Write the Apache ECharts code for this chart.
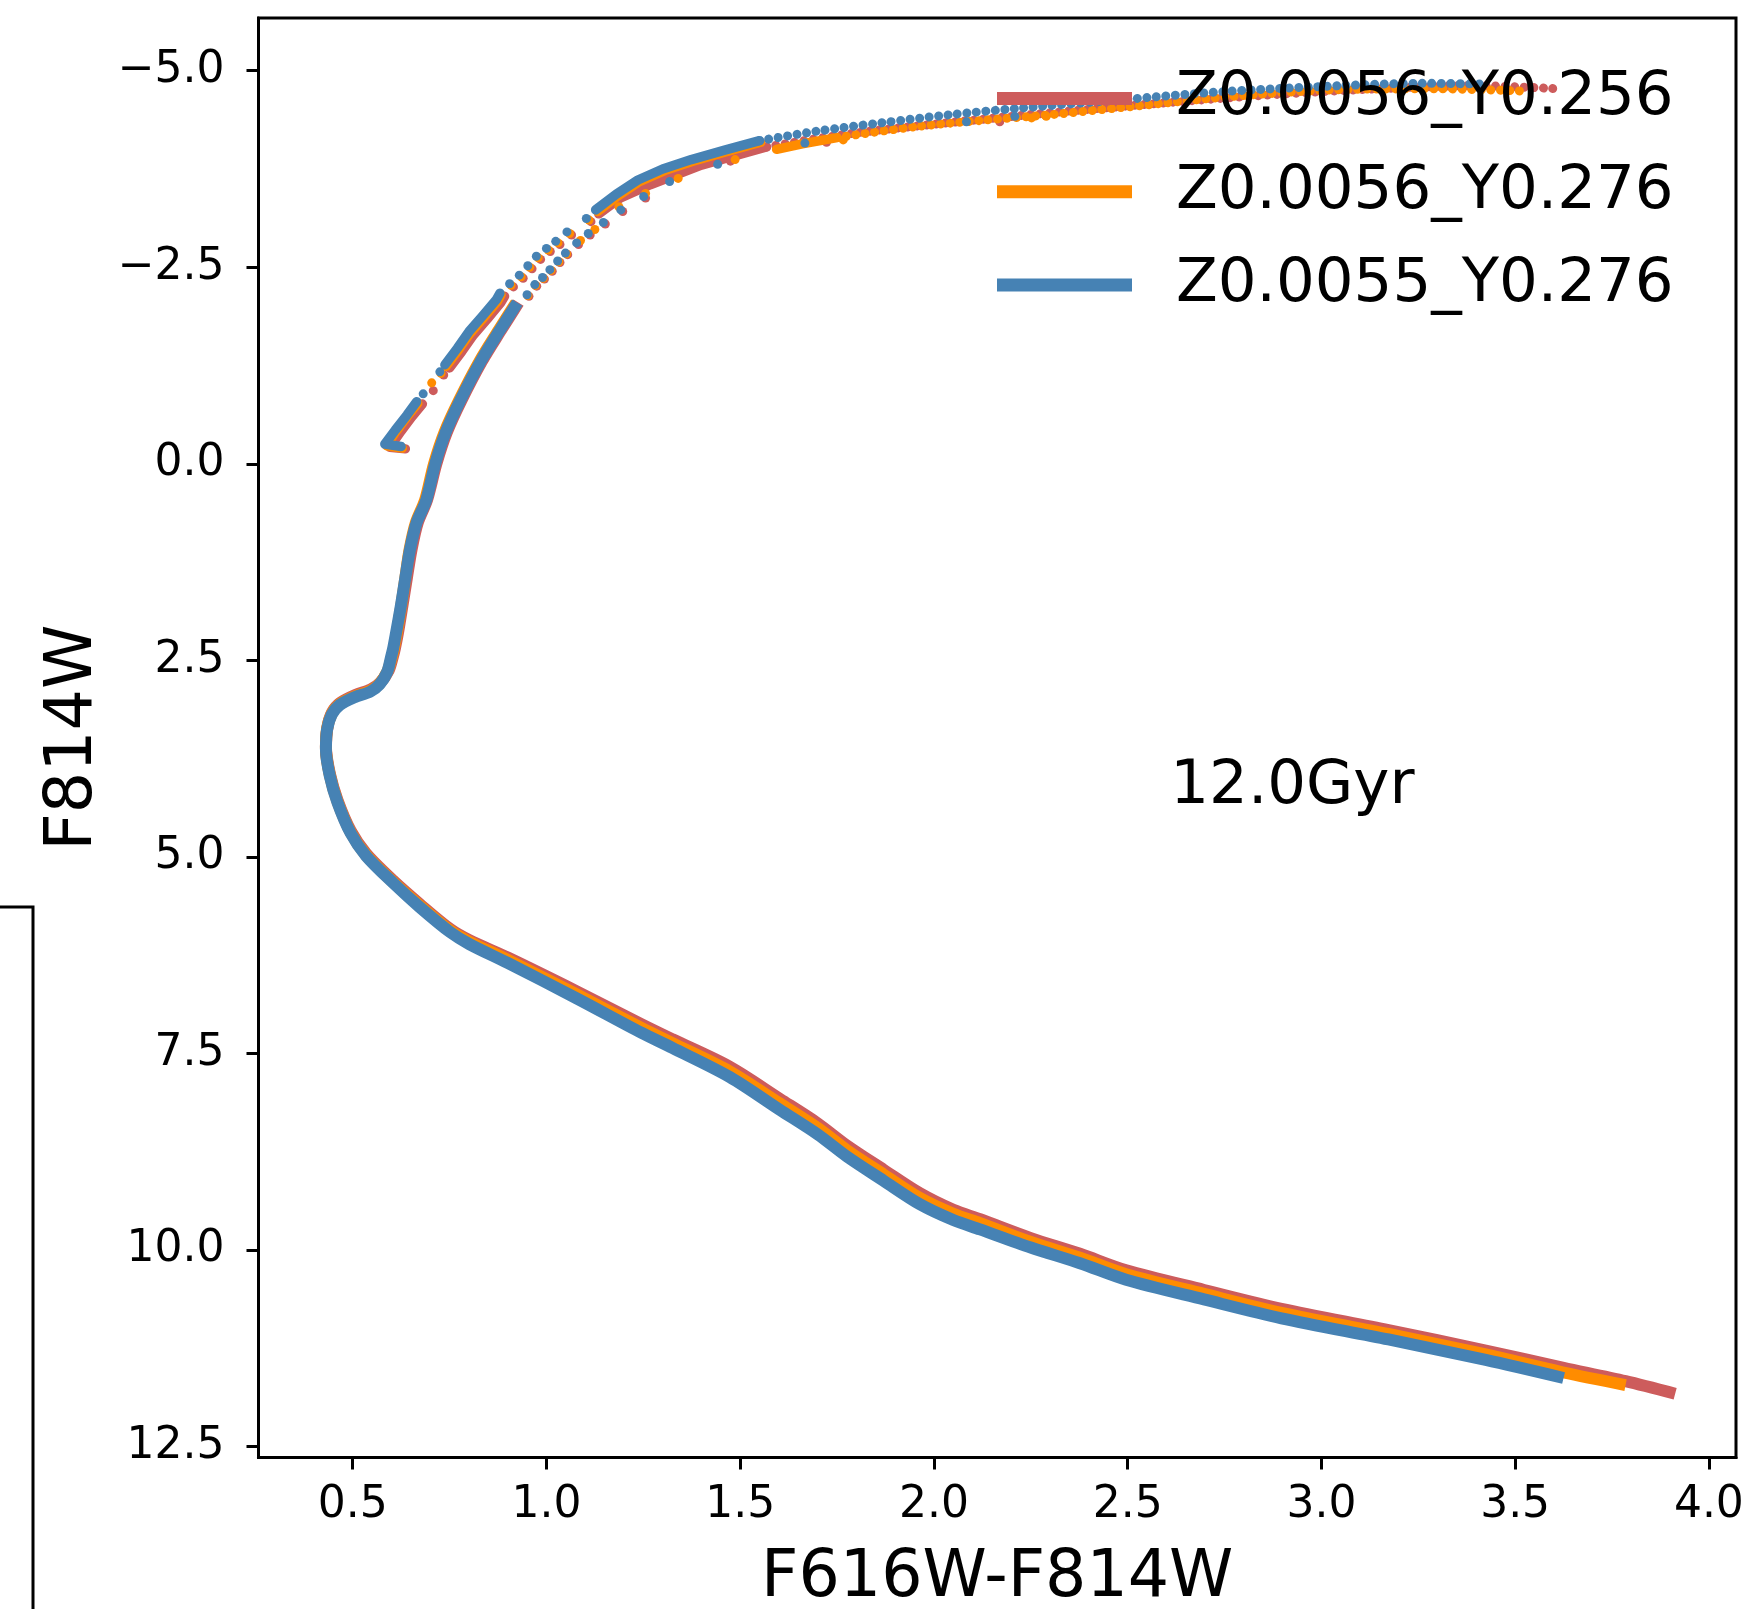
<!DOCTYPE html>
<html>
<head>
<meta charset="utf-8">
<script src="https://cdn.jsdelivr.net/npm/echarts@6/dist/echarts.min.js"></script>
<style>
  html, body { margin: 0; padding: 0; background: #fff; }
  #chart { width: 1762px; height: 1609px; }
</style>
</head>
<body>
<div id="chart"></div>
<script>
// Isochrone CMD, 12 Gyr: F814W vs F616W-F814W for three Z/Y compositions.

const modelNames = ['Z0.0056_Y0.256', 'Z0.0056_Y0.276', 'Z0.0055_Y0.276'];
const xTicks = [0.5, 1.0, 1.5, 2.0, 2.5, 3.0, 3.5, 4.0];
const yTicks = [-5.0, -2.5, 0.0, 2.5, 5.0, 7.5, 10.0, 12.5];
const ageLabel = '12.0Gyr';
const ageLabelAt = [2.61, 4.12];

// ---- Z0.0056_Y0.256 ----
const redMain = [
  [3.913, 11.83], [3.785, 11.67], [3.625, 11.50], [3.424, 11.28], [3.173, 11.02],
  [2.897, 10.75], [2.697, 10.51], [2.496, 10.26], [2.377, 10.05], [2.25, 9.85],
  [2.119, 9.61], [2.05, 9.49], [1.964, 9.28], [1.87, 8.98], [1.775, 8.67],
  [1.70, 8.39], [1.603, 8.08], [1.473, 7.67], [1.325, 7.32], [1.246, 7.13],
  [1.078, 6.71], [0.90, 6.28], [0.801, 6.06], [0.752, 5.92], [0.673, 5.60],
  [0.604, 5.30], [0.535, 4.96], [0.495, 4.67], [0.461, 4.28], [0.441, 3.94],
  [0.431, 3.60], [0.435, 3.35], [0.447, 3.16], [0.468, 3.04], [0.507, 2.94],
  [0.547, 2.87], [0.572, 2.78], [0.593, 2.63], [0.604, 2.45], [0.609, 2.35],
  [0.617, 2.15], [0.628, 1.82], [0.64, 1.45], [0.652, 1.09], [0.668, 0.75],
  [0.692, 0.46], [0.716, 0.0], [0.743, -0.40], [0.781, -0.81], [0.833, -1.30],
  [0.883, -1.70], [0.928, -2.05]
];
const redHbLower = [[0.636, -0.19], [0.596, -0.21], [0.624, -0.41], [0.653, -0.60], [0.68, -0.76]];
const redHbDots = [[0.708, -0.93], [0.735, -1.13]];
const redAgbLower = [[0.75, -1.22], [0.782, -1.43], [0.812, -1.64], [0.847, -1.84], [0.882, -2.05], [0.892, -2.13]];
const redAgbDots = [
  [0.915, -2.25], [0.94, -2.36], [0.963, -2.48], [0.985, -2.60], [1.01, -2.70],
  [1.035, -2.79], [1.065, -2.91], [1.115, -3.08]
];
const redAgbUpper = [[1.135, -3.18], [1.19, -3.38], [1.268, -3.55], [1.40, -3.80], [1.568, -4.03]];
const redTipRow = [
  [1.568, -4.03], [1.80, -4.21], [2.10, -4.37], [2.40, -4.51], [2.80, -4.67],
  [3.10, -4.76], [3.40, -4.81], [3.61, -4.77]
];
const redRgbDots = [
  [0.955, -2.13], [0.975, -2.26], [0.995, -2.35], [1.015, -2.45], [1.035, -2.56],
  [1.055, -2.66], [1.083, -2.79], [1.113, -2.91], [1.152, -3.05], [1.197, -3.21],
  [1.256, -3.38], [1.475, -3.85], [1.723, -4.09], [2.17, -4.35], [2.29, -4.43]
];

// ---- Z0.0056_Y0.276 ----
const orangeMain = [
  [3.785, 11.72], [3.625, 11.56], [3.424, 11.33], [3.173, 11.07], [2.897, 10.80],
  [2.697, 10.56], [2.496, 10.31], [2.377, 10.10], [2.25, 9.90], [2.119, 9.66],
  [2.05, 9.54], [1.964, 9.34], [1.87, 9.04], [1.775, 8.73], [1.70, 8.45],
  [1.603, 8.14], [1.473, 7.73], [1.325, 7.37], [1.246, 7.18], [1.078, 6.75],
  [0.90, 6.31], [0.801, 6.08], [0.752, 5.94], [0.673, 5.62], [0.604, 5.32],
  [0.535, 4.98], [0.495, 4.69], [0.461, 4.30], [0.441, 3.96], [0.431, 3.62],
  [0.434, 3.37], [0.446, 3.18], [0.466, 3.06], [0.505, 2.96], [0.545, 2.89],
  [0.569, 2.80], [0.59, 2.64], [0.601, 2.46], [0.606, 2.36], [0.614, 2.15],
  [0.625, 1.82], [0.636, 1.45], [0.647, 1.09], [0.663, 0.75], [0.687, 0.46],
  [0.71, 0.0], [0.737, -0.40], [0.775, -0.81], [0.827, -1.30], [0.877, -1.70],
  [0.922, -2.05]
];
const orangeHbLower = [[0.628, -0.20], [0.588, -0.23], [0.613, -0.42], [0.642, -0.61], [0.668, -0.77]];
const orangeHbDots = [[0.704, -1.03], [0.728, -1.15]];
const orangeAgbLower = [[0.741, -1.24], [0.773, -1.45], [0.803, -1.66], [0.838, -1.86], [0.874, -2.07], [0.883, -2.15]];
const orangeAgbDots = [
  [0.909, -2.27], [0.935, -2.38], [0.957, -2.50], [0.979, -2.62], [1.005, -2.72],
  [1.03, -2.81], [1.06, -2.93], [1.11, -3.10]
];
const orangeAgbUpper = [[1.132, -3.21], [1.185, -3.41], [1.24, -3.59], [1.305, -3.73], [1.378, -3.85], [1.464, -3.97], [1.553, -4.09]];
const orangeTipThick = [[1.594, -4.00], [1.66, -4.07], [1.75, -4.15]];
const orangeTipRow = [
  [1.75, -4.15], [1.955, -4.29], [2.127, -4.37], [2.30, -4.44], [2.48, -4.53],
  [2.764, -4.67], [3.05, -4.76], [3.30, -4.77], [3.53, -4.74]
];
const orangeRgbDots = [
  [0.952, -2.14], [0.972, -2.27], [0.992, -2.36], [1.012, -2.46], [1.032, -2.57],
  [1.052, -2.67], [1.088, -2.84], [1.125, -2.98], [1.187, -3.27], [1.256, -3.44],
  [1.34, -3.63], [1.487, -3.87], [1.766, -4.12], [2.252, -4.40], [2.29, -4.42]
];

// ---- Z0.0055_Y0.276 ----
const blueMain = [
  [3.625, 11.63], [3.424, 11.40], [3.173, 11.14], [2.897, 10.87], [2.697, 10.63],
  [2.496, 10.38], [2.377, 10.17], [2.25, 9.97], [2.119, 9.74], [2.05, 9.62],
  [1.964, 9.42], [1.87, 9.12], [1.775, 8.81], [1.70, 8.53], [1.603, 8.22],
  [1.473, 7.80], [1.325, 7.43], [1.246, 7.24], [1.078, 6.80], [0.90, 6.35],
  [0.801, 6.11], [0.752, 5.96], [0.673, 5.64], [0.604, 5.33], [0.535, 4.99],
  [0.495, 4.70], [0.461, 4.31], [0.441, 3.97], [0.431, 3.63], [0.434, 3.38],
  [0.446, 3.19], [0.466, 3.07], [0.505, 2.97], [0.545, 2.90], [0.569, 2.81],
  [0.589, 2.65], [0.599, 2.46], [0.604, 2.36], [0.612, 2.15], [0.624, 1.82],
  [0.636, 1.45], [0.648, 1.09], [0.665, 0.75], [0.69, 0.46], [0.713, 0.0],
  [0.74, -0.40], [0.778, -0.81], [0.83, -1.30], [0.88, -1.70], [0.925, -2.05]
];
const blueHbLower = [[0.625, -0.22], [0.583, -0.25], [0.61, -0.43], [0.64, -0.62], [0.665, -0.79]];
const blueHbDots = [[0.682, -0.89], [0.725, -1.17]];
const blueAgbLower = [[0.738, -1.26], [0.77, -1.47], [0.80, -1.68], [0.835, -1.88], [0.871, -2.09], [0.88, -2.17]];
const blueAgbDots = [
  [0.905, -2.29], [0.93, -2.40], [0.952, -2.52], [0.974, -2.64], [1.0, -2.74],
  [1.024, -2.83], [1.053, -2.95], [1.103, -3.12]
];
const blueAgbUpper = [[1.127, -3.23], [1.18, -3.43], [1.236, -3.61], [1.30, -3.75], [1.374, -3.87], [1.46, -3.99], [1.55, -4.11]];
const blueTipRow = [
  [1.55, -4.11], [1.697, -4.23], [1.869, -4.34], [2.041, -4.44], [2.213, -4.52],
  [2.48, -4.63], [2.764, -4.74], [3.05, -4.81], [3.26, -4.84], [3.42, -4.83]
];
const blueRgbDots = [
  [0.95, -2.15], [0.97, -2.28], [0.99, -2.37], [1.009, -2.47], [1.029, -2.58],
  [1.049, -2.68], [1.078, -2.81], [1.108, -2.93], [1.147, -3.07], [1.192, -3.23],
  [1.251, -3.40], [1.318, -3.59], [1.442, -3.81], [1.667, -4.08], [2.084, -4.35],
  [2.209, -4.42]
];

const FONT = '"DejaVu Sans", "Liberation Sans", sans-serif';
const colors = ['#CD5C5C', '#FF8C00', '#4682B4'];

// track pieces per model: solid isochrone, dense runs, dotted runs, loose points
const models = [
  { main: redMain, dense: [redHbLower, redAgbLower, redAgbUpper], rows: [redTipRow],
    dots: [redHbDots, redAgbDots, redRgbDots] },
  { main: orangeMain, dense: [orangeHbLower, orangeAgbLower, orangeAgbUpper, orangeTipThick], rows: [orangeTipRow],
    dots: [orangeHbDots, orangeAgbDots, orangeRgbDots] },
  { main: blueMain, dense: [blueHbLower, blueAgbLower, blueAgbUpper], rows: [blueTipRow],
    dots: [blueHbDots, blueAgbDots, blueRgbDots] }
];

const series = [];
models.forEach((m, i) => {
  const name = modelNames[i];
  const color = colors[i];
  const z = 2 + i;
  const common = { name, z, silent: true, animation: false, emphasis: { disabled: true }, color };
  series.push(Object.assign({
    type: 'line', data: m.main, showSymbol: false, symbol: 'none', smooth: 0.3,
    lineStyle: { color, width: 12, cap: 'butt', join: 'round' }
  }, common));
  m.dense.forEach(d => series.push(Object.assign({
    type: 'line', data: d, showSymbol: false, symbol: 'none',
    lineStyle: { color, width: 9.5, cap: 'round', join: 'round' }
  }, common)));
  m.rows.forEach(d => series.push(Object.assign({
    type: 'line', data: d, showSymbol: false, symbol: 'none', smooth: 0.3,
    lineStyle: { color, width: 9, type: [0.01, 9.5], cap: 'round', join: 'round' }
  }, common)));
  m.dots.forEach(d => series.push(Object.assign({
    type: 'scatter', data: d, symbol: 'circle', symbolSize: 9,
    itemStyle: { color, opacity: 1 }
  }, common)));
});

const fmt = v => (v < 0 ? '\u2212' : '') + Math.abs(v).toFixed(1);

const chart = echarts.init(document.getElementById('chart'), null, { renderer: 'canvas' });
chart.setOption({
  animation: false,
  backgroundColor: '#fff',
  grid: {
    left: 258.5, right: 26, top: 18, bottom: 151.6,
    containLabel: false, outerBoundsMode: 'none',
    show: true, borderColor: '#000', borderWidth: 3, backgroundColor: 'transparent'
  },
  xAxis: {
    type: 'value', min: 0.257, max: 4.07,
    name: 'F616W-F814W', nameLocation: 'middle', nameGap: 89,
    nameTextStyle: { fontSize: 65, color: '#000', fontFamily: FONT },
    axisLine: { show: true, onZero: false, lineStyle: { color: '#000', width: 3 } },
    axisTick: { show: true, customValues: xTicks, length: 12, lineStyle: { color: '#000', width: 3 } },
    axisLabel: { customValues: xTicks, formatter: fmt, fontSize: 44, color: '#000', fontFamily: FONT, margin: 26 },
    splitLine: { show: false }
  },
  yAxis: {
    type: 'value', inverse: true, min: -5.671, max: 12.64,
    name: 'F814W', nameLocation: 'middle', nameGap: 151,
    nameTextStyle: { fontSize: 65, color: '#000', fontFamily: FONT },
    axisLine: { show: true, onZero: false, lineStyle: { color: '#000', width: 3 } },
    axisTick: { show: true, customValues: yTicks, length: 12, lineStyle: { color: '#000', width: 3 } },
    axisLabel: { customValues: yTicks, formatter: fmt, fontSize: 44, color: '#000', fontFamily: FONT, margin: 34 },
    splitLine: { show: false }
  },
  legend: {
    data: modelNames.map((n, i) => ({ name: n, icon: 'rect', itemStyle: { color: colors[i] } })),
    orient: 'vertical', left: 997, top: 68, z: 20, padding: 0,
    itemWidth: 135, itemHeight: 13, itemGap: 32.2, selectedMode: false,
    textStyle: { fontSize: 61, lineHeight: 61, color: '#000', fontFamily: FONT, padding: [0, 0, 0, 39] }
  },
  series: series
});

const agePx = chart.convertToPixel({ gridIndex: 0 }, ageLabelAt);
chart.setOption({
  graphic: [
    {
      type: 'text', left: agePx[0], top: agePx[1] - 30.5, silent: true,
      style: { text: ageLabel, fontSize: 61, fontFamily: FONT, fill: '#000' }
    },
    {
      // spine of the neighbouring panel along the left edge
      type: 'polyline', silent: true,
      shape: { points: [[0, 907], [33, 907], [33, 1609]] },
      style: { stroke: '#000', lineWidth: 3, fill: null }
    }
  ]
});
</script>
</body>
</html>
